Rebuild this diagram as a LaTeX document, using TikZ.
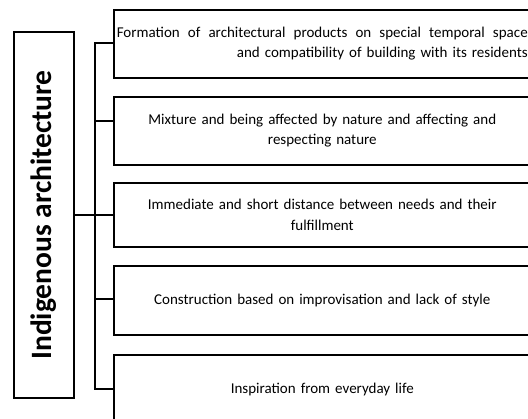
\documentclass[tikz,border=0pt]{standalone}
\usepackage{fontspec}
\setmainfont{Carlito}
\begin{document}
\begin{tikzpicture}[x=1pt,y=-1pt,line width=1.6pt,
  item/.style={draw,anchor=north west,minimum width=417,minimum height=68,inner xsep=3pt,text width=411pt,align=center,font=\fontsize{15}{20.5}\selectfont}]
\clip (0,0) rectangle (528,419);
\node (arch) at (44,215) [draw,rotate=90,minimum width=366,minimum height=60,font=\fontsize{29.5}{32}\selectfont\bfseries] {Indigenous architecture};
\node (box1) at (113,9) [item,align=right] {\makebox[411pt][s]{\spaceskip=0pt Formation of architectural products on special temporal space}\\and compatibility of building with its residents};
\node (box2) at (113,96) [item] {Mixture and being affected by nature and affecting and\\respecting nature};
\node (box3) at (113,182) [item,minimum height=64] {Immediate and short distance between needs and their\\fulfillment};
\node (box4) at (113,265) [item,minimum height=69] {Construction based on improvisation and lack of style};
\node (box5) at (113,354) [item,minimum height=70] {Inspiration from everyday life};
\coordinate (j1) at (95,43);
\coordinate (j2) at (95,121);
\coordinate (j3) at (95,215);
\coordinate (j4) at (95,299);
\coordinate (j5) at (95,389);
\draw (j1 -| box1.west) -- (j1) -- (j5) -- (j5 -| box5.west);
\draw (arch.south) -- (j3);
\foreach \i in {2,3,4}
  \draw (j\i) -- (j\i -| box\i.west);
\end{tikzpicture}
\end{document}
